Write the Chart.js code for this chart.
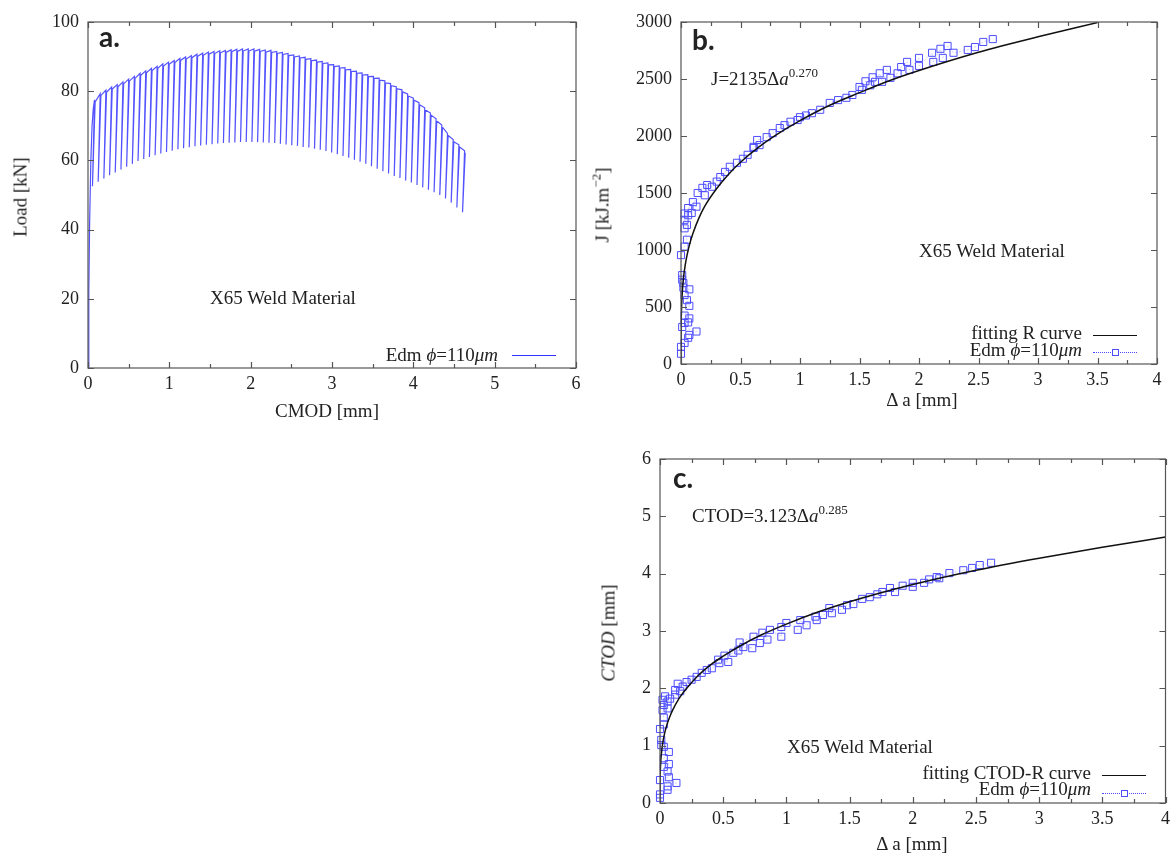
<!DOCTYPE html>
<html>
<head>
<meta charset="utf-8">
<script src="https://cdn.jsdelivr.net/npm/chart.js@4/dist/chart.umd.min.js"></script>
<style>
  body { margin: 0; background: #fff; }
  #wrap { position: relative; width: 1175px; height: 854px; font-family: "Liberation Serif", serif; color: #222; }
  canvas { position: absolute; }
  .t { position: absolute; white-space: nowrap; font-size: 19px; line-height: 19px; }
  .tag { position: absolute; font-family: Lato, "Open Sans", sans-serif; font-weight: 700; font-size: 28px; line-height: 28px; color: #222; }
  .rot { transform: translate(-50%, -50%) rotate(-90deg); }
  .ctr { transform: translateX(-50%); }
  .sup { font-size: 13px; position: relative; top: -8px; }
  .line { position: absolute; height: 0; width: 44px; }
  .sq { position: absolute; width: 5px; height: 5px; border: 1px solid #4d4dff; background: #fff; }
</style>
</head>
<body>
<div id="wrap">
  <canvas id="chartA" width="590" height="420" style="left:0;top:0"></canvas>
  <canvas id="chartB" width="585" height="420" style="left:590px;top:0"></canvas>
  <canvas id="chartC" width="585" height="424" style="left:590px;top:430px"></canvas>

  <!-- panel a -->
  <div class="tag" style="left:99px;top:22px">a.</div>
  <div class="t" style="left:210px;top:288px">X65 Weld Material</div>
  <div class="t" style="right:677px;top:345px">Edm <i>ϕ</i>=110<i>μm</i></div>
  <div class="line" style="left:512px;top:355px;border-top:1px solid #3333ff"></div>
  <div class="t rot" style="left:20px;top:197px">Load [kN]</div>
  <div class="t ctr" style="left:327px;top:401px">CMOD [mm]</div>

  <!-- panel b -->
  <div class="tag" style="left:692px;top:25px">b.</div>
  <div class="t" style="left:711px;top:69px">J=2135Δ<i>a</i><span class="sup">0.270</span></div>
  <div class="t" style="left:919px;top:241px">X65 Weld Material</div>
  <div class="t" style="right:93px;top:323px">fitting R curve</div>
  <div class="line" style="left:1093px;top:335px;border-top:1.5px solid #111"></div>
  <div class="t" style="right:93px;top:340px">Edm <i>ϕ</i>=110<i>μm</i></div>
  <div class="line" style="left:1093px;top:352px;border-top:1px dotted #4d4dff"></div>
  <div class="sq" style="left:1112px;top:349px"></div>
  <div class="t rot" style="left:603px;top:205px">J [kJ.m<span class="sup">−2</span>]</div>
  <div class="t ctr" style="left:922px;top:390px">Δ a [mm]</div>

  <!-- panel c -->
  <div class="tag" style="left:673px;top:463px">c.</div>
  <div class="t" style="left:692px;top:506px">CTOD=3.123Δ<i>a</i><span class="sup">0.285</span></div>
  <div class="t" style="left:787px;top:737px">X65 Weld Material</div>
  <div class="t" style="right:84px;top:763px">fitting CTOD-R curve</div>
  <div class="line" style="left:1102px;top:775px;border-top:1.5px solid #111"></div>
  <div class="t" style="right:84px;top:779px">Edm <i>ϕ</i>=110<i>μm</i></div>
  <div class="line" style="left:1102px;top:793px;border-top:1px dotted #4d4dff"></div>
  <div class="sq" style="left:1121px;top:790px"></div>
  <div class="t rot" style="left:608px;top:633px"><i>CTOD</i> [mm]</div>
  <div class="t ctr" style="left:912px;top:834px">Δ a [mm]</div>
</div>

<script>
// panel a: load-unload cycles (peak CMOD, peak load, load at end of unloading)
const loadingCmod = [0, 0.01, 0.02, 0.035, 0.05, 0.065]
const loadingLoad = [0, 22, 42, 60, 70, 75]

const cmodPeak = [
  0.08, 0.15, 0.22, 0.29, 0.36, 0.43, 0.50, 0.57, 0.64, 0.71,
  0.78, 0.85, 0.92, 0.99, 1.06, 1.13, 1.20, 1.27, 1.34, 1.41,
  1.48, 1.55, 1.62, 1.69, 1.76, 1.83, 1.90, 1.97, 2.04, 2.11,
  2.18, 2.25, 2.32, 2.39, 2.46, 2.53, 2.60, 2.67, 2.74, 2.81,
  2.88, 2.95, 3.02, 3.09, 3.16, 3.23, 3.30, 3.37, 3.44, 3.51,
  3.58, 3.65, 3.72, 3.79, 3.86, 3.93, 4.00, 4.07, 4.14, 4.21,
  4.28, 4.35, 4.42, 4.49, 4.56, 4.63
]
const loadPeak = [
  77.5, 79.3, 80.3, 81.2, 81.9, 82.7, 83.5, 84.3, 85.2, 85.9,
  86.6, 87.2, 87.9, 88.4, 88.9, 89.5, 89.9, 90.3, 90.7, 91.0,
  91.3, 91.5, 91.7, 91.8, 92.0, 92.1, 92.2, 92.2, 92.2, 92.1,
  91.9, 91.8, 91.5, 91.2, 90.9, 90.5, 90.2, 89.8, 89.4, 89.0,
  88.6, 88.2, 87.7, 87.3, 86.8, 86.3, 85.8, 85.3, 84.8, 84.3,
  83.8, 83.0, 82.2, 81.3, 80.4, 79.2, 78.0, 76.7, 75.2, 73.7,
  72.0, 70.2, 67.8, 66.0, 64.5, 62.8
]
const loadValley = [
  52.5, 53.8, 54.8, 55.7, 56.5, 57.4, 58.2, 59.0, 59.8, 60.4,
  61.0, 61.5, 62.0, 62.4, 62.8, 63.2, 63.5, 63.8, 64.1, 64.3,
  64.5, 64.7, 64.9, 65.0, 65.1, 65.2, 65.3, 65.3, 65.3, 65.3,
  65.2, 65.1, 65.0, 64.8, 64.6, 64.4, 64.2, 63.9, 63.7, 63.4,
  63.1, 62.7, 62.3, 61.8, 61.3, 60.8, 60.2, 59.6, 59.0, 58.3,
  57.6, 56.9, 56.2, 55.5, 54.9, 54.2, 53.6, 52.9, 52.2, 51.5,
  50.8, 50.0, 49.0, 47.8, 46.4, 45.0
]

// panel b: J-R data and fitted R curve
const jCrack = [
  0.00, 0.00, 0.03, 0.06, 0.07, 0.13, 0.01, 0.03, 0.06, 0.07,
  0.03, 0.07, 0.05, 0.03, 0.07, 0.02, 0.02, 0.01, 0.01, 0.00,
  0.03, 0.05, 0.03, 0.05, 0.03, 0.06, 0.03, 0.09, 0.06, 0.13,
  0.10, 0.20, 0.14, 0.18, 0.26, 0.22, 0.30, 0.33, 0.37, 0.41,
  0.47, 0.52, 0.56, 0.61, 0.61, 0.66, 0.64, 0.72, 0.77, 0.83,
  0.87, 0.92, 0.98, 1.00, 1.05, 1.10, 1.17, 1.25, 1.32, 1.39,
  1.44, 1.50, 1.52, 1.55, 1.59, 1.61, 1.63, 1.67, 1.69, 1.73,
  1.76, 1.82, 1.85, 1.90, 1.92, 2.00, 2.00, 2.11, 2.12, 2.18,
  2.20, 2.24, 2.29, 2.41, 2.47, 2.54, 2.62
]
const jValue = [
  90, 150, 185, 230, 255, 285, 325, 360, 365, 400,
  425, 510, 560, 605, 655, 670, 710, 740, 780, 955,
  1030, 1090, 1190, 1220, 1265, 1305, 1320, 1325, 1368, 1380,
  1420, 1480, 1500, 1545, 1555, 1570, 1600, 1640, 1685, 1730,
  1765, 1800, 1835, 1895, 1905, 1920, 1965, 1990, 2025, 2070,
  2095, 2125, 2140, 2165, 2180, 2200, 2230, 2290, 2315, 2335,
  2360, 2430, 2405, 2480, 2445, 2515, 2475, 2550, 2475, 2580,
  2510, 2550, 2605, 2650, 2580, 2685, 2615, 2730, 2650, 2765,
  2685, 2790, 2730, 2755, 2780, 2825, 2850
]
const jFitCrack = [0, 0.0005, 0.002, 0.005, 0.01, 0.02, 0.035, 0.05, 0.075, 0.1, 0.15, 0.2, 0.3, 0.4, 0.5, 0.65, 0.8, 1.0, 1.25, 1.5, 1.75, 2.0, 2.5, 3.0, 3.5]
const jFitValue = [0, 275, 400, 510, 615, 745, 865, 950, 1060, 1145, 1280, 1385, 1540, 1665, 1770, 1900, 2010, 2135, 2270, 2380, 2485, 2575, 2735, 2870, 2995]

// panel c: CTOD-R data and fitted curve
const ctodCrack = [
  0.00, 0.00, 0.06, 0.06, 0.13, 0.00, 0.07, 0.06, 0.03, 0.07,
  0.03, 0.07, 0.03, 0.01, 0.01, 0.00, 0.03, 0.03, 0.02, 0.06,
  0.03, 0.06, 0.02, 0.08, 0.04, 0.12, 0.16, 0.12, 0.18, 0.14,
  0.21, 0.25, 0.29, 0.33, 0.37, 0.41, 0.47, 0.46, 0.54, 0.51,
  0.58, 0.62, 0.66, 0.73, 0.63, 0.74, 0.79, 0.85, 0.81, 0.87,
  0.96, 0.96, 1.00, 1.09, 1.11, 1.16, 1.23, 1.24, 1.29, 1.36,
  1.34, 1.44, 1.48, 1.53, 1.60, 1.66, 1.72, 1.76, 1.82, 1.86,
  1.92, 2.00, 2.00, 2.09, 2.13, 2.19, 2.21, 2.29, 2.40, 2.47,
  2.53, 2.62
]
const ctodValue = [
  0.09, 0.15, 0.23, 0.29, 0.35, 0.40, 0.45, 0.55, 0.63, 0.68,
  0.78, 0.89, 0.98, 1.01, 1.10, 1.29, 1.37, 1.49, 1.62, 1.65,
  1.71, 1.77, 1.80, 1.82, 1.86, 1.89, 1.95, 1.97, 2.03, 2.08,
  2.11, 2.15, 2.20, 2.27, 2.32, 2.35, 2.44, 2.50, 2.46, 2.57,
  2.62, 2.66, 2.72, 2.70, 2.80, 2.90, 2.79, 2.85, 2.97, 3.02,
  2.90, 3.07, 3.14, 3.02, 3.19, 3.10, 3.25, 3.19, 3.28, 3.31,
  3.40, 3.37, 3.45, 3.47, 3.56, 3.59, 3.64, 3.68, 3.75, 3.68,
  3.79, 3.77, 3.84, 3.84, 3.90, 3.94, 3.92, 4.01, 4.06, 4.10,
  4.15, 4.19
]
const ctodFitCrack = [0, 0.0005, 0.002, 0.005, 0.01, 0.02, 0.035, 0.05, 0.075, 0.1, 0.15, 0.2, 0.3, 0.4, 0.5, 0.65, 0.8, 1.0, 1.25, 1.5, 2.0, 2.5, 3.0, 3.5, 4.0]
const ctodFitValue = [0, 0.36, 0.53, 0.69, 0.84, 1.02, 1.20, 1.33, 1.49, 1.62, 1.82, 1.97, 2.22, 2.41, 2.56, 2.76, 2.93, 3.12, 3.33, 3.51, 3.81, 4.06, 4.27, 4.46, 4.64]

const UNLOAD_SHIFT = 0.025
const RELOAD_SHIFT = 0.008
const BLUE = "#4d4dff"
const TICK_FONT = { family: "Liberation Serif", size: 18 }

const pairs = (xs, ys) => xs.map((x, i) => ({ x, y: ys[i] }))

const cycleData = pairs(loadingCmod, loadingLoad)
cmodPeak.forEach((c, i) => {
  cycleData.push({ x: c, y: loadPeak[i] })
  cycleData.push({ x: c - UNLOAD_SHIFT, y: loadValley[i] })
  cycleData.push({ x: c + RELOAD_SHIFT, y: loadPeak[i] - 0.6 })
})

// frame + inward ticks on all four sides
const frameTicks = {
  id: "frameTicks",
  afterDraw(chart, args, opts) {
    const { ctx, chartArea: a, scales: { x, y } } = chart
    ctx.save()
    ctx.strokeStyle = "#555"
    ctx.lineWidth = 1.2
    ctx.strokeRect(a.left, a.top, a.right - a.left, a.bottom - a.top)
    const isMajor = (v, major) => Math.abs(v / major - Math.round(v / major)) < 1e-6
    ctx.beginPath()
    for (let v = x.min; v <= x.max + 1e-9; v += opts.xStep) {
      const px = Math.round(x.getPixelForValue(v)) + 0.5
      const len = isMajor(v, opts.xMajor) ? 6 : 4
      ctx.moveTo(px, a.bottom); ctx.lineTo(px, a.bottom - len)
      ctx.moveTo(px, a.top); ctx.lineTo(px, a.top + len)
    }
    for (let v = y.min; v <= y.max + 1e-9; v += opts.yStep) {
      const py = Math.round(y.getPixelForValue(v)) + 0.5
      const len = isMajor(v, opts.yMajor) ? 6 : 4
      ctx.moveTo(a.left, py); ctx.lineTo(a.left + len, py)
      ctx.moveTo(a.right, py); ctx.lineTo(a.right - len, py)
    }
    ctx.stroke()
    ctx.restore()
  }
}

function axis(min, max, step, pad, fitSize, horizontal) {
  return {
    type: "linear", min, max,
    ticks: { stepSize: step, padding: pad, font: TICK_FONT, color: "#222", callback: v => String(v) },
    grid: { display: false, drawTicks: false },
    border: { display: false },
    afterFit: s => { if (horizontal) s.height = fitSize; else s.width = fitSize }
  }
}

function baseOptions(pad, xs, ys, tickOpts) {
  return {
    responsive: false,
    animation: false,
    layout: { padding: pad },
    plugins: { legend: { display: false }, tooltip: { enabled: false }, frameTicks: tickOpts },
    scales: { x: xs, y: ys }
  }
}

new Chart(document.getElementById("chartA"), {
  type: "scatter",
  data: {
    datasets: [{
      data: cycleData,
      showLine: true,
      borderColor: "rgba(40,40,255,0.8)",
      borderWidth: 1.2,
      pointRadius: 0
    }]
  },
  options: baseOptions(
    { top: 22, right: 14, left: 0, bottom: 0 },
    axis(0, 6, 1, 5, 52, true),
    axis(0, 100, 20, 9, 88, false),
    { xStep: 0.5, xMajor: 1, yStep: 20, yMajor: 20 }
  ),
  plugins: [frameTicks]
})

function rCurveChart(id, pad, fitX, fitY, dataX, dataY, xAxis, yAxis, tickOpts) {
  new Chart(document.getElementById(id), {
    type: "scatter",
    data: {
      datasets: [
        {
          data: pairs(fitX, fitY),
          showLine: true,
          borderColor: "#111",
          borderWidth: 1.5,
          pointRadius: 0,
          cubicInterpolationMode: "monotone"
        },
        {
          data: pairs(dataX, dataY),
          showLine: true,
          borderColor: "rgba(77,77,255,0.35)",
          borderWidth: 0.8,
          borderDash: [2, 2],
          pointStyle: "rect",
          pointRadius: 5,
          pointBorderColor: BLUE,
          pointBackgroundColor: "rgba(255,255,255,0)",
          pointBorderWidth: 1,
          clip: false
        }
      ]
    },
    options: baseOptions(pad, xAxis, yAxis, tickOpts),
    plugins: [frameTicks]
  })
}

rCurveChart("chartB",
  { top: 22, right: 18, left: 0, bottom: 0 },
  jFitCrack, jFitValue, jCrack, jValue,
  axis(0, 4, 0.5, 5, 56, true),
  axis(0, 3000, 500, 9, 91, false),
  { xStep: 0.25, xMajor: 0.5, yStep: 500, yMajor: 500 })

rCurveChart("chartC",
  { top: 29, right: 9, left: 0, bottom: 0 },
  ctodFitCrack, ctodFitValue, ctodCrack, ctodValue,
  axis(0, 4, 0.5, 5, 51, true),
  axis(0, 6, 1, 9, 70, false),
  { xStep: 0.25, xMajor: 0.5, yStep: 1, yMajor: 1 })
</script>
</body>
</html>
